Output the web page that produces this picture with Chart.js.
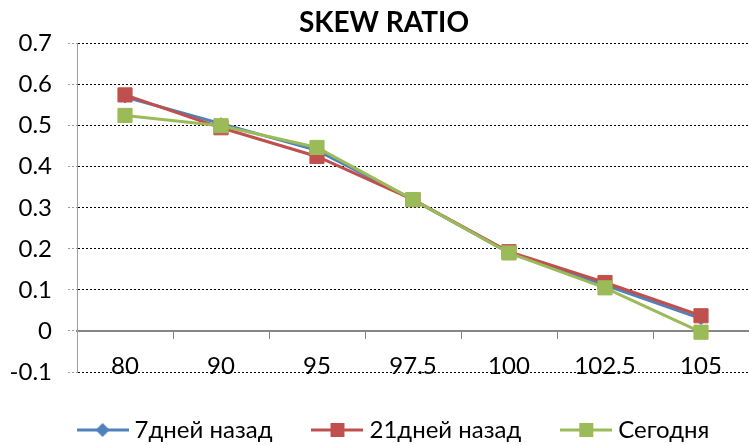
<!DOCTYPE html>
<html>
<head>
<meta charset="utf-8">
<script src="https://cdn.jsdelivr.net/npm/chart.js@4/dist/chart.umd.min.js"></script>
<style>
  html, body { margin: 0; padding: 0; background: #fff; }
  #wrap { width: 749px; height: 445px; }
</style>
</head>
<body>
<div id="wrap"><canvas id="skew"></canvas></div>
<script>
const strikes = ['80', '90', '95', '97.5', '100', '102.5', '105'];
const days7 = [0.570, 0.505, 0.440, 0.320, 0.190, 0.112, 0.030];
const days21 = [0.575, 0.495, 0.425, 0.320, 0.193, 0.118, 0.037];
const today = [0.525, 0.500, 0.447, 0.320, 0.190, 0.105, -0.003];
const seriesNames = ['7дней назад', '21дней назад', 'Сегодня'];

const BLUE = '#4f81bd', RED = '#c0504d', GREEN = '#9bbb59';
const FONT = 'Lato, "Open Sans", sans-serif';

// legend swatch: a short line with the marker in the middle
function swatch(color, style) {
  const c = document.createElement('canvas');
  c.width = 52; c.height = 20;
  const g = c.getContext('2d');
  g.strokeStyle = color; g.lineWidth = 3;
  g.beginPath(); g.moveTo(0, 10); g.lineTo(52, 10); g.stroke();
  g.fillStyle = color;
  if (style === 'diamond') {
    g.beginPath();
    g.moveTo(26, 3); g.lineTo(33, 10); g.lineTo(26, 17); g.lineTo(19, 10);
    g.closePath(); g.fill();
  } else {
    g.fillRect(19, 3, 14, 14);
  }
  return c;
}

const swatches = [swatch(BLUE, 'diamond'), swatch(RED, 'rect'), swatch(GREEN, 'rect')];

function lineSet(label, data, color, style, radius, order) {
  return {
    label: label,
    data: data,
    borderColor: color,
    backgroundColor: color,
    borderWidth: 3,
    pointStyle: style,
    pointRadius: radius,
    pointHoverRadius: radius,
    pointBorderWidth: 1,
    pointBorderColor: color,
    pointBackgroundColor: color,
    tension: 0,
    order: order
  };
}

const ctx = document.getElementById('skew');
new Chart(ctx, {
  type: 'line',
  data: {
    labels: strikes,
    datasets: [
      lineSet(seriesNames[0], days7, BLUE, 'rectRot', 6, 3),
      lineSet(seriesNames[1], days21, RED, 'rect', 10, 2),
      lineSet(seriesNames[2], today, GREEN, 'rect', 10, 1)
    ]
  },
  options: {
    responsive: true,
    maintainAspectRatio: false,
    animation: false,
    layout: { autoPadding: false, padding: { left: 0, right: -3, top: 6, bottom: -6 } },
    plugins: {
      title: {
        display: true,
        text: 'SKEW RATIO',
        color: '#000',
        font: { family: FONT, size: 28, weight: 'bold' },
        padding: { top: 0, bottom: 4 }
      },
      legend: {
        position: 'bottom',
        labels: {
          usePointStyle: true,
          pointStyleWidth: 40,
          padding: 45,
          color: '#000',
          font: { family: FONT, size: 24, lineHeight: 1.5 },
          generateLabels: function (chart) {
            return chart.data.datasets.map((ds, i) => ({
              text: ds.label,
              pointStyle: swatches[i],
              fillStyle: ds.borderColor,
              strokeStyle: ds.borderColor,
              lineWidth: 0,
              hidden: false,
              datasetIndex: i,
              fontColor: '#000'
            }));
          }
        }
      },
      tooltip: { enabled: false }
    },
    scales: {
      x: {
        position: { y: 0 },
        offset: true,
        afterFit: function (scale) { scale.paddingLeft = 0; scale.paddingRight = 0; },
        grid: {
          offset: true,
          drawOnChartArea: false,
          drawTicks: true,
          tickLength: 7,
          color: '#868686',
          lineWidth: 1
        },
        border: { display: true, color: '#868686', width: 2 },
        ticks: {
          color: '#000',
          padding: 14,
          font: { family: FONT, size: 24 },
          maxRotation: 0,
          autoSkip: false
        }
      },
      y: {
        min: -0.1,
        max: 0.7,
        afterFit: function (scale) { scale.width = 77; },
        ticks: {
          stepSize: 0.1,
          color: '#000',
          padding: 16,
          font: { family: FONT, size: 24 },
          callback: function (v) { return Math.round(v * 10) / 10; }
        },
        grid: {
          color: '#000',
          lineWidth: 1,
          tickLength: 9,
          tickColor: '#9a9a9a',
          drawTicks: true
        },
        border: { display: true, color: '#a0a0a0', width: 1, dash: [2, 2] }
      }
    }
  },
  plugins: [{
    id: 'dottedGrid',
    beforeDraw: function (chart) {
      const g = chart.options.scales.y.grid;
      g.borderDash = [2, 2];
      g.tickBorderDash = [2, 2];
    }
  }, {
    // nudge title and legend row to where the original sits
    id: 'boxNudge',
    afterLayout: function (chart) {
      const t = chart.titleBlock;
      t.left += 8; t.right += 8;
      const lg = chart.legend;
      lg.left += 20; lg.right += 20;
      lg.top += 1; lg.bottom += 1;
    }
  }]
});
</script>
</body>
</html>
